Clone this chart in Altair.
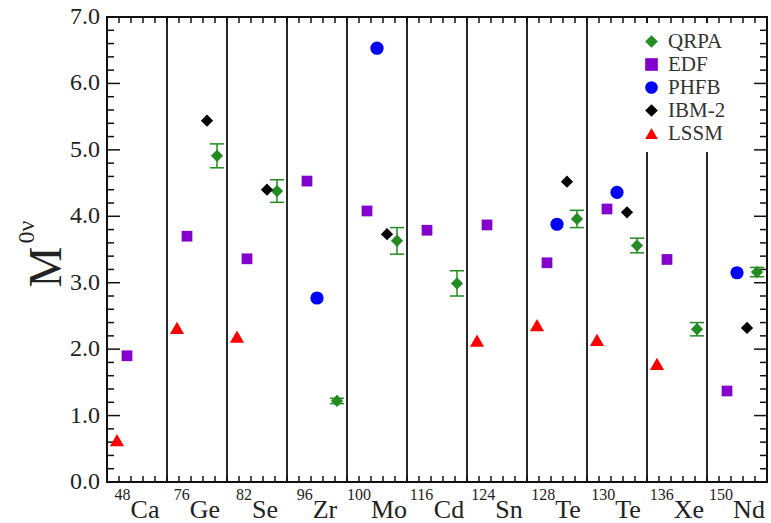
import altair as alt
import pandas as pd

# Nuclei along the horizontal axis
mass_numbers = ["48", "76", "82", "96", "100", "116", "124", "128", "130", "136", "150"]
elements = ["Ca", "Ge", "Se", "Zr", "Mo", "Cd", "Sn", "Te", "Te", "Xe", "Nd"]

# Nuclear matrix elements M^0v per method (None = not computed)
qrpa = [None, 4.91, 4.38, 1.22, 3.63, 2.99, None, 3.96, 3.56, 2.30, 3.16]
qrpa_err = [None, 0.18, 0.17, 0.04, 0.20, 0.19, None, 0.13, 0.11, 0.10, 0.07]
edf = [1.90, 3.70, 3.36, 4.53, 4.08, 3.79, 3.87, 3.30, 4.11, 3.35, 1.37]
phfb = [None, None, None, 2.77, 6.53, None, None, 3.88, 4.36, None, 3.15]
ibm2 = [None, 5.44, 4.40, None, 3.73, None, None, 4.52, 4.06, None, 2.32]
lssm = [0.63, 2.32, 2.19, None, None, None, 2.13, 2.36, 2.14, 1.78, None]

# y-axis tick labels
y_tick_values = [0, 1, 2, 3, 4, 5, 6, 7]

methods = ["QRPA", "EDF", "PHFB", "IBM-2", "LSSM"]
series = {"QRPA": qrpa, "EDF": edf, "PHFB": phfb, "IBM-2": ibm2, "LSSM": lssm}
colors = ["#228b22", "#8400cc", "#0000ff", "#000000", "#ff0000"]
shapes = ["diamond", "square", "circle", "diamond", "triangle-up"]
marker_size = {"QRPA": 150, "EDF": 115, "PHFB": 175, "IBM-2": 150, "LSSM": 200}
# slot of each method inside a nucleus column (column split in sixths)
slot = {"LSSM": 1, "EDF": 2, "PHFB": 3, "IBM-2": 4, "QRPA": 5}

n = len(elements)
W, H = 660, 465
XMAX, YMAX = 11.0, 7.0
PX_X = W / XMAX          # pixels per x unit
PX_Y = H / YMAX          # pixels per y unit
FONT = "Liberation Serif"
TXT = "#222222"


def ux(px):
    return px / PX_X


def uy(px):
    return px / PX_Y


rows = []
for m in methods:
    for i, v in enumerate(series[m]):
        if v is not None:
            rows.append({"method": m, "x": i + slot[m] / 6.0, "y": v})
points_df = pd.DataFrame(rows)

err_rows = []
for i, (v, e) in enumerate(zip(qrpa, qrpa_err)):
    if v is not None and e is not None:
        xc = i + slot["QRPA"] / 6.0
        err_rows.append({"x": xc, "xa": xc - ux(7), "xb": xc + ux(7),
                         "lo": v - e, "hi": v + e})
err_df = pd.DataFrame(err_rows)

xs = alt.Scale(domain=[0, XMAX], nice=False, zero=False)
ys = alt.Scale(domain=[0, YMAX], nice=False, zero=True)

# Inward tick marks, drawn as short rules
y_minor = [k / 5 for k in range(0, 36) if k % 5 != 0]
x_minor = [k / 5 for k in range(1, 55)]

tick_rows = []
for v in y_tick_values:
    tick_rows.append({"x": 0, "x2": ux(13), "y": v, "y2": v})
    tick_rows.append({"x": XMAX, "x2": XMAX - ux(13), "y": v, "y2": v})
for v in y_minor:
    tick_rows.append({"x": 0, "x2": ux(7), "y": v, "y2": v})
    tick_rows.append({"x": XMAX, "x2": XMAX - ux(7), "y": v, "y2": v})
for v in x_minor:
    tick_rows.append({"x": v, "x2": v, "y": 0, "y2": uy(6)})
    tick_rows.append({"x": v, "x2": v, "y": YMAX, "y2": YMAX - uy(6)})
tick_df = pd.DataFrame(tick_rows)

ylab_df = pd.DataFrame({"y": y_tick_values,
                        "label": [f"{v:.1f}" for v in y_tick_values],
                        "x": [-ux(7)] * len(y_tick_values)})

# Label pieces: centred mass number + symbol using Times-like advance widths
adv = {"C": .667, "a": .444, "G": .722, "e": .444, "S": .556, "Z": .611, "r": .333,
       "M": .889, "o": .5, "d": .5, "n": .5, "T": .611, "X": .722, "N": .722}
MASS_FS, ELEM_FS = 16, 26
lab_rows = []
for i, (a, el) in enumerate(zip(mass_numbers, elements)):
    wm = 0.5 * len(a) * MASS_FS
    we = sum(adv[c] for c in el) * ELEM_FS
    start = (i + 0.5) - ux(wm + we) / 2
    lab_rows.append({"mass": a, "elem": el, "xm": start, "xe": start + ux(wm),
                     "ym": -uy(18), "ye": -uy(36)})
lab_df = pd.DataFrame(lab_rows)

legend = alt.Legend(title=None, orient="none", legendX=526, legendY=6, fillColor="white",
                    padding=8, labelFont=FONT, labelFontSize=21, labelColor="#333333",
                    labelOffset=6, rowPadding=1, symbolSize=160, symbolStrokeWidth=0,
                    symbolOpacity=1)


def method_layer(m):
    return alt.Chart(points_df).transform_filter(
        alt.datum.method == m
    ).mark_point(filled=True, opacity=1, size=marker_size[m]).encode(
        x=alt.X("x:Q", scale=xs, axis=None),
        y=alt.Y("y:Q", scale=ys, axis=None),
        color=alt.Color("method:N", scale=alt.Scale(domain=methods, range=colors),
                        legend=legend),
        shape=alt.Shape("method:N", scale=alt.Scale(domain=methods, range=shapes),
                        legend=legend),
    )


point_layers = [method_layer(m) for m in methods]

err_line = alt.Chart(err_df).mark_rule(color="#228b22", strokeWidth=1.5).encode(
    x=alt.X("x:Q", scale=xs, axis=None), y=alt.Y("lo:Q", scale=ys, axis=None),
    y2=alt.Y2("hi"))
cap_lo = alt.Chart(err_df).mark_rule(color="#228b22", strokeWidth=1.5).encode(
    x=alt.X("xa:Q", scale=xs, axis=None), x2=alt.X2("xb"),
    y=alt.Y("lo:Q", scale=ys, axis=None))
cap_hi = alt.Chart(err_df).mark_rule(color="#228b22", strokeWidth=1.5).encode(
    x=alt.X("xa:Q", scale=xs, axis=None), x2=alt.X2("xb"),
    y=alt.Y("hi:Q", scale=ys, axis=None))

sep_df = pd.DataFrame({"x": list(range(1, n)), "y": [0.0] * (n - 1), "y2": [YMAX] * (n - 1)})
separators = alt.Chart(sep_df).mark_rule(color="#111111", strokeWidth=1.8).encode(
    x=alt.X("x:Q", scale=xs, axis=None), y=alt.Y("y:Q", scale=ys, axis=None),
    y2=alt.Y2("y2"))

ticks = alt.Chart(tick_df).mark_rule(color="#111111", strokeWidth=1.5).encode(
    x=alt.X("x:Q", scale=xs, axis=None), x2=alt.X2("x2"),
    y=alt.Y("y:Q", scale=ys, axis=None), y2=alt.Y2("y2"))

ylabels = alt.Chart(ylab_df).mark_text(font=FONT, fontSize=24, align="right",
                                       baseline="middle", color=TXT).encode(
    x=alt.X("x:Q", scale=xs, axis=None), y=alt.Y("y:Q", scale=ys, axis=None),
    text="label:N")

mass_text = alt.Chart(lab_df).mark_text(font=FONT, fontSize=MASS_FS, align="left",
                                        baseline="alphabetic", color=TXT).encode(
    x=alt.X("xm:Q", scale=xs, axis=None), y=alt.Y("ym:Q", scale=ys, axis=None),
    text="mass:N")
elem_text = alt.Chart(lab_df).mark_text(font=FONT, fontSize=ELEM_FS, align="left",
                                        baseline="alphabetic", color=TXT).encode(
    x=alt.X("xe:Q", scale=xs, axis=None), y=alt.Y("ye:Q", scale=ys, axis=None),
    text="elem:N")

# Rotated axis title: "M" with a raised "0ν"
title_df = pd.DataFrame({"t": ["M", "0ν"], "tx": [-ux(60), -ux(80)],
                         "ty": [YMAX - uy(250), YMAX - uy(215)], "fs": [46, 24]})
ytitle = alt.Chart(title_df).mark_text(font=FONT, angle=270, align="center",
                                       baseline="middle", color=TXT).encode(
    x=alt.X("tx:Q", scale=xs, axis=None), y=alt.Y("ty:Q", scale=ys, axis=None),
    text="t:N", size=alt.Size("fs:Q", scale=None, legend=None))

chart = alt.layer(
    separators, ticks, err_line, cap_lo, cap_hi, *point_layers,
    ylabels, mass_text, elem_text, ytitle
).properties(
    width=W, height=H,
    background="white",
    autosize=alt.AutoSizeParams(type="none"),
    padding={"left": 107, "top": 17, "right": 4, "bottom": 41},
).configure_view(
    stroke="#111111", strokeWidth=2
)

chart.save("out.html", embed_options={"renderer": "svg", "actions": False})
